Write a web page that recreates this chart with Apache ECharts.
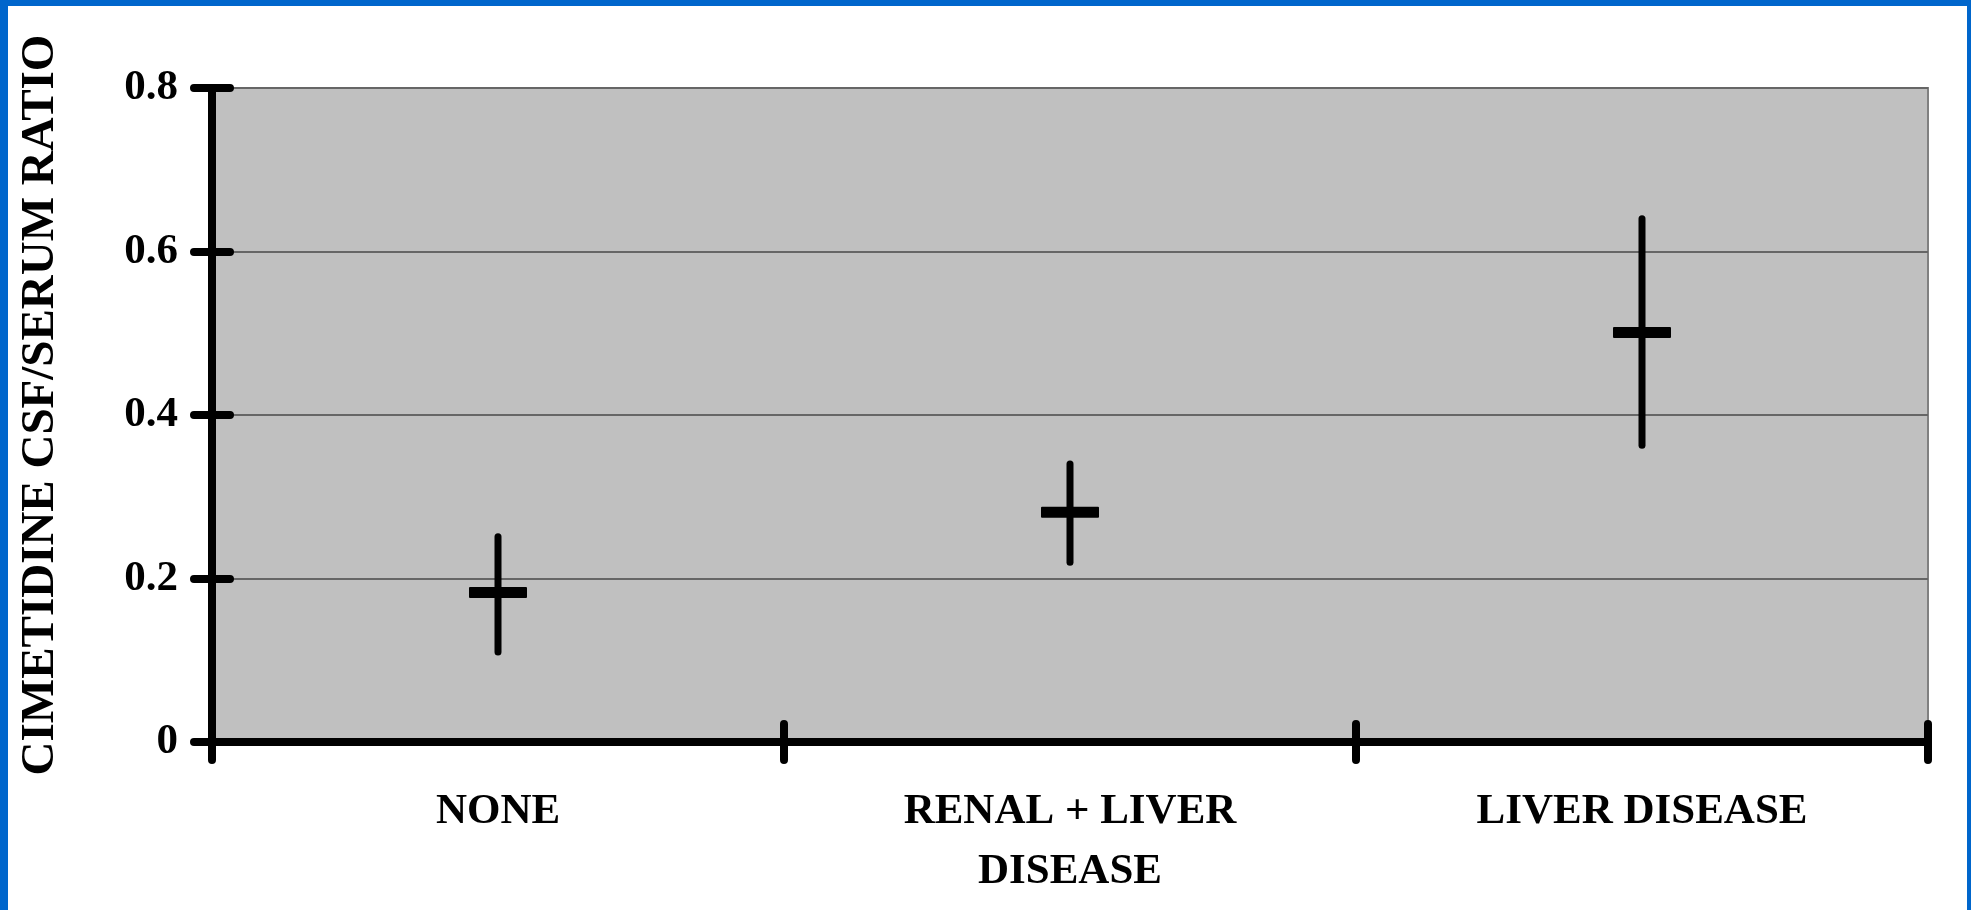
<!DOCTYPE html>
<html>
<head>
<meta charset="utf-8">
<script src="https://cdn.jsdelivr.net/npm/echarts@6/dist/echarts.min.js"></script>
<style>
html,body{margin:0;padding:0;background:#fff;}
#chart{width:1971px;height:910px;}
</style>
</head>
<body>
<div id="chart"></div>
<script>
// ---- data ----
const categories = ['NONE', 'RENAL + LIVER\nDISEASE', 'LIVER DISEASE'];
const meanValues = [0.183, 0.281, 0.501];
const lowValues  = [0.11, 0.22, 0.363];
const highValues = [0.251, 0.34, 0.64];
const yTicks = [0, 0.2, 0.4, 0.6, 0.8];
const yAxisTitle = 'CIMETIDINE CSF/SERUM RATIO';

const seriesData = categories.map((c, i) => [i, meanValues[i], lowValues[i], highValues[i]]);

const FONT = '"Liberation Serif", "Times New Roman", serif';
const chart = echarts.init(document.getElementById('chart'), null, {renderer: 'canvas'});

const tickStyle = {color: '#000', width: 8, cap: 'round'};

chart.setOption({
  animation: false,
  backgroundColor: '#ffffff',
  graphic: [
    {type: 'rect', left: 0, top: 0, shape: {width: 8, height: 910}, style: {fill: '#0066CC'}, z: 100},
    {type: 'rect', left: 0, top: 0, shape: {width: 1971, height: 6}, style: {fill: '#0066CC'}, z: 100},
    {type: 'rect', left: 1967, top: 0, shape: {width: 4, height: 910}, style: {fill: '#0066CC'}, z: 100}
  ],
  grid: {
    left: 212, top: 88, right: 43, bottom: 168,
    show: true, backgroundColor: '#C0C0C0', borderColor: '#808080', borderWidth: 2
  },
  xAxis: [
    {
      type: 'category', data: categories, position: 'bottom', boundaryGap: true,
      axisLine: {show: true, lineStyle: {color: '#000', width: 8}},
      axisTick: {show: true, inside: false, length: 18, alignWithLabel: false, lineStyle: tickStyle},
      axisLabel: {
        show: true, margin: 40, interval: 0,
        fontFamily: FONT, fontWeight: 'bold', fontSize: 43, color: '#000',
        lineHeight: 60, align: 'center'
      },
      splitLine: {show: false}
    },
    {
      type: 'category', data: categories, position: 'bottom', offset: 0, boundaryGap: true,
      axisLine: {show: false},
      axisTick: {show: true, inside: true, length: 18, lineStyle: tickStyle},
      axisLabel: {show: false},
      splitLine: {show: false}
    }
  ],
  yAxis: [
    {
      type: 'value', min: 0, max: 0.8, interval: 0.2, position: 'left',
      name: yAxisTitle, nameLocation: 'middle', nameGap: 148, nameRotate: 90,
      nameTextStyle: {fontFamily: FONT, fontWeight: 'bold', fontSize: 47, color: '#000', padding: [0, 0, 0, 20]},
      axisLine: {show: true, lineStyle: {color: '#000', width: 8}},
      axisTick: {show: true, inside: false, length: 18, lineStyle: tickStyle},
      axisLabel: {
        margin: 34, fontFamily: FONT, fontWeight: 'bold', fontSize: 43, color: '#000',
        formatter: v => (v === 0 ? '0' : v.toFixed(1))
      },
      splitLine: {show: true, lineStyle: {color: '#666666', width: 2}}
    },
    {
      type: 'value', min: 0, max: 0.8, interval: 0.2, position: 'left', offset: 0,
      axisLine: {show: false},
      axisTick: {show: true, inside: true, length: 18, lineStyle: tickStyle},
      axisLabel: {show: false},
      splitLine: {show: false}
    }
  ],
  series: [{
    type: 'custom',
    xAxisIndex: 0, yAxisIndex: 0,
    data: seriesData,
    encode: {x: 0, y: [1, 2, 3]},
    z: 10,
    renderItem: function (params, api) {
      const idx = api.value(0);
      const mean = api.coord([idx, api.value(1)]);
      const low = api.coord([idx, api.value(2)]);
      const high = api.coord([idx, api.value(3)]);
      const barW = 58, barH = 11;
      return {
        type: 'group',
        children: [
          {
            type: 'line',
            shape: {x1: mean[0], y1: high[1], x2: mean[0], y2: low[1]},
            style: {stroke: '#000', lineWidth: 7, lineCap: 'round'}
          },
          {
            type: 'rect',
            shape: {x: mean[0] - barW / 2, y: mean[1] - barH / 2, width: barW, height: barH, r: 1},
            style: {fill: '#000'}
          }
        ]
      };
    }
  }]
});
</script>
</body>
</html>
